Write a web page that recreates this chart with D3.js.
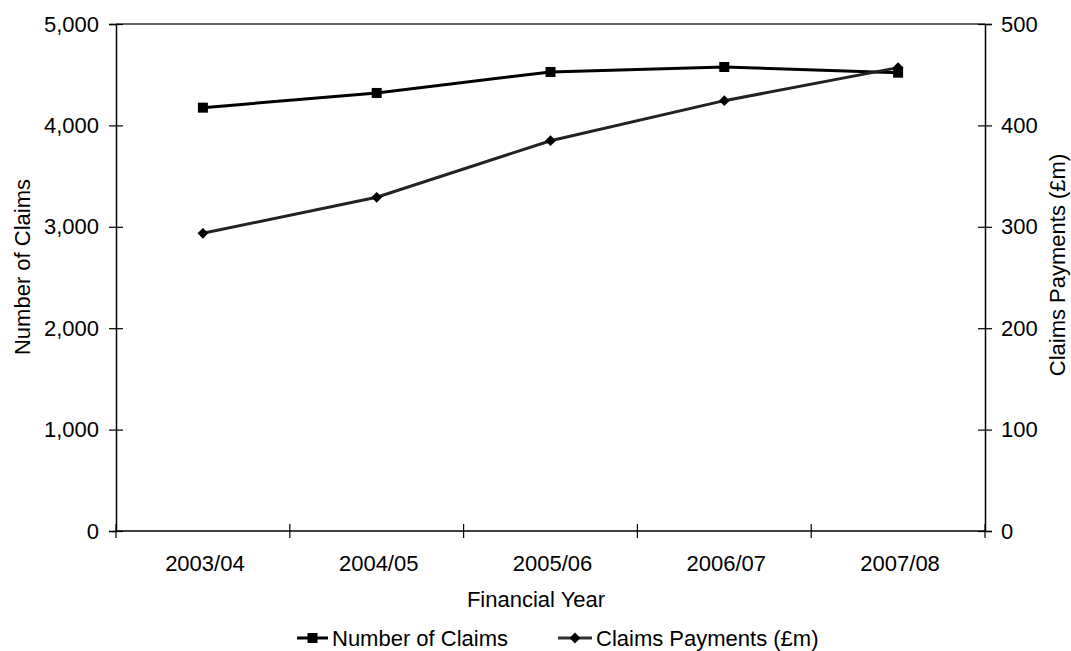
<!DOCTYPE html>
<html>
<head>
<meta charset="utf-8">
<script src="https://cdn.jsdelivr.net/npm/d3@7"></script>
<style>
  html, body { margin: 0; padding: 0; background: #fff; }
  svg { display: block; font-family: "Liberation Sans", Arial, sans-serif; }
</style>
</head>
<body>
<svg id="chart" width="1071" height="651"></svg>
<script>
// Financial years on the x axis
const years = ["2003/04", "2004/05", "2005/06", "2006/07", "2007/08"];
// Number of claims (left axis)
const claims = [4175, 4320, 4527, 4576, 4520];
// Claims payments in £m (right axis)
const payments = [293.6, 329.1, 384.9, 424.4, 457];
// Tick values
const leftTicks = [0, 1000, 2000, 3000, 4000, 5000];
const rightTicks = [0, 100, 200, 300, 400, 500];

const svg = d3.select("#chart");
const fontSize = 22;
const plot = { left: 116, right: 985, top: 24, bottom: 531 };

const x = d3.scaleBand().domain(years).range([plot.left, plot.right]).padding(0);
const yL = d3.scaleLinear().domain([0, 5000]).range([plot.bottom, plot.top]);
const yR = d3.scaleLinear().domain([0, 500]).range([plot.bottom, plot.top]);
const cx = d => x(d) + x.bandwidth() / 2;

// top frame line
svg.append("line")
  .attr("x1", plot.left).attr("x2", plot.right)
  .attr("y1", plot.top).attr("y2", plot.top)
  .attr("stroke", "#333").attr("stroke-width", 1.5);

// left axis
const gL = svg.append("g").attr("transform", `translate(${plot.left},0)`)
  .call(d3.axisLeft(yL).tickValues(leftTicks).tickFormat(d3.format(",")).tickSize(7).tickPadding(10));
gL.select(".domain").attr("stroke", "#000").attr("stroke-width", 1.5);
gL.selectAll(".tick line").attr("x1", -7).attr("x2", 7).attr("stroke", "#000").attr("stroke-width", 1.2);
gL.selectAll(".tick text").attr("font-size", fontSize).attr("fill", "#000")
  .attr("font-family", "Liberation Sans, Arial, sans-serif");

// right axis
const gR = svg.append("g").attr("transform", `translate(${plot.right},0)`)
  .call(d3.axisRight(yR).tickValues(rightTicks).tickSize(7).tickPadding(9));
gR.select(".domain").attr("stroke", "#000").attr("stroke-width", 1.5);
gR.selectAll(".tick line").attr("x1", -7).attr("x2", 7).attr("stroke", "#000").attr("stroke-width", 1.2);
gR.selectAll(".tick text").attr("font-size", fontSize).attr("fill", "#000")
  .attr("font-family", "Liberation Sans, Arial, sans-serif");

// bottom axis: line, ticks at band boundaries, labels at band centres
svg.append("line")
  .attr("x1", plot.left).attr("x2", plot.right)
  .attr("y1", plot.bottom).attr("y2", plot.bottom)
  .attr("stroke", "#000").attr("stroke-width", 1.5);
const edges = years.map(d => x(d)).concat([x.range()[1]]);
svg.append("g").selectAll("line").data(edges).join("line")
  .attr("x1", d => d).attr("x2", d => d)
  .attr("y1", plot.bottom - 7).attr("y2", plot.bottom + 7)
  .attr("stroke", "#000").attr("stroke-width", 1.2);
svg.append("g").selectAll("text").data(years).join("text")
  .attr("x", d => cx(d) + 2).attr("y", 571)
  .attr("text-anchor", "middle").attr("font-size", fontSize).attr("fill", "#000")
  .text(d => d);

// axis titles
svg.append("text")
  .attr("x", 536).attr("y", 607)
  .attr("text-anchor", "middle").attr("font-size", fontSize).attr("fill", "#000")
  .text("Financial Year");
svg.append("text")
  .attr("transform", "translate(29.5,267) rotate(-90)")
  .attr("text-anchor", "middle").attr("font-size", fontSize).attr("fill", "#000")
  .text("Number of Claims");
svg.append("text")
  .attr("transform", "translate(1065,265) rotate(-90)")
  .attr("text-anchor", "middle").attr("font-size", fontSize).attr("fill", "#000")
  .text("Claims Payments (£m)");

// series lines
const lineL = d3.line().x((d, i) => cx(years[i])).y(d => yL(d));
const lineR = d3.line().x((d, i) => cx(years[i])).y(d => yR(d));

svg.append("path").datum(claims).attr("d", lineL)
  .attr("fill", "none").attr("stroke", "#000").attr("stroke-width", 3);
svg.append("path").datum(payments).attr("d", lineR)
  .attr("fill", "none").attr("stroke", "#222").attr("stroke-width", 3);

// markers: filled square, and a square turned 45° for the diamond
const square = d3.symbol().type(d3.symbolSquare).size(100);
const diamond = d3.symbol().type(d3.symbolSquare).size(58);

svg.append("g").selectAll("path").data(claims).join("path")
  .attr("d", square)
  .attr("transform", (d, i) => `translate(${cx(years[i])},${yL(d)})`)
  .attr("fill", "#000");
svg.append("g").selectAll("path").data(payments).join("path")
  .attr("d", diamond)
  .attr("transform", (d, i) => `translate(${cx(years[i])},${yR(d)}) rotate(45)`)
  .attr("fill", "#000");

// legend
const legendY = 638;
const legendItems = [
  { label: "Number of Claims", x0: 297, x1: 328, sym: square, rot: 0, stroke: "#000" },
  { label: "Claims Payments (£m)", x0: 558, x1: 592, sym: diamond, rot: 45, stroke: "#333" }
];
const lg = svg.append("g");
legendItems.forEach(it => {
  lg.append("line").attr("x1", it.x0).attr("x2", it.x1)
    .attr("y1", legendY).attr("y2", legendY)
    .attr("stroke", it.stroke).attr("stroke-width", 3);
  lg.append("path").attr("d", it.sym)
    .attr("transform", `translate(${(it.x0 + it.x1) / 2},${legendY}) rotate(${it.rot})`)
    .attr("fill", "#000");
  lg.append("text").attr("x", it.x1 + 4).attr("y", legendY + 8)
    .attr("font-size", fontSize).attr("fill", "#000").text(it.label);
});
</script>
</body>
</html>
